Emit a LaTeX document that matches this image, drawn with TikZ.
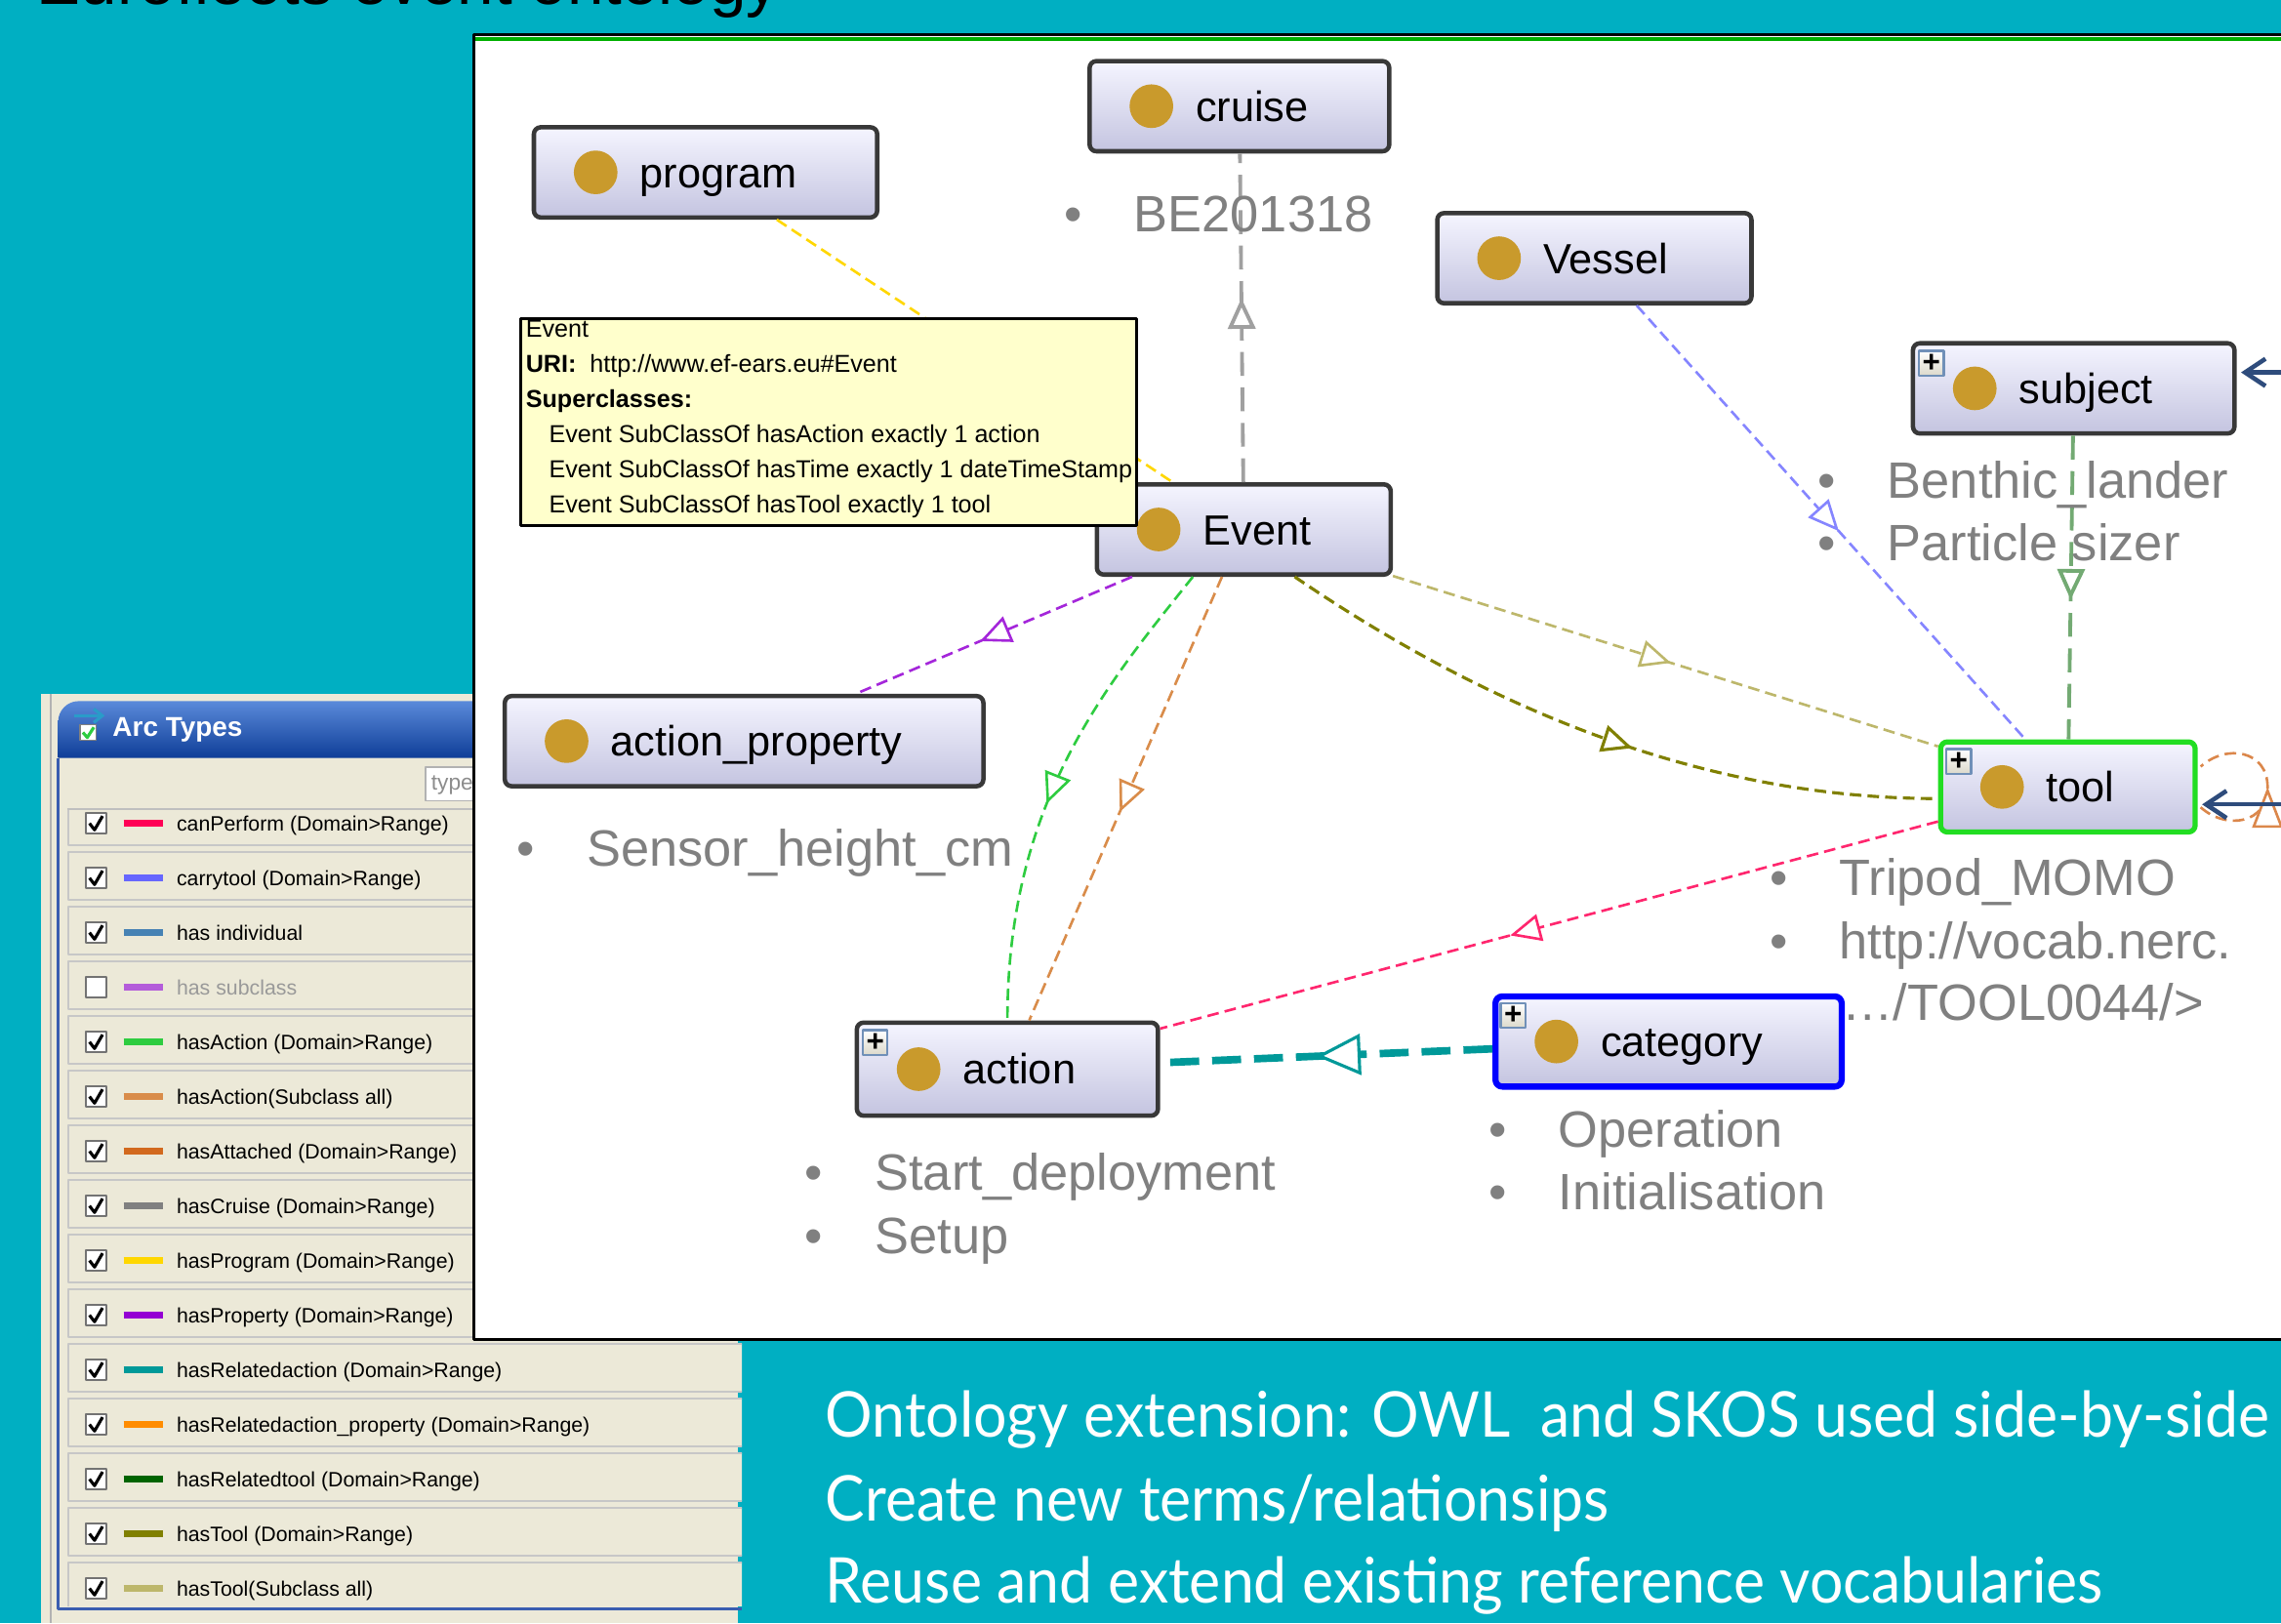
\documentclass[tikz,border=0pt]{standalone}
\usepackage{fontspec}
\setmainfont{Liberation Sans}
\newfontfamily\slidefont[FakeStretch=0.94]{Lato}
\usetikzlibrary{arrows.meta, positioning, calc, decorations.markings}

\definecolor{cteal}{HTML}{00AFC2}
\definecolor{cpanel}{HTML}{ECE9D8}
\definecolor{cgold}{HTML}{C99A2C}
\definecolor{clav}{HTML}{C4C4E0}
\definecolor{cinst}{HTML}{808080}
\definecolor{cnavy}{HTML}{2E4C7C}
\definecolor{ctip}{HTML}{FFFFCC}
\definecolor{cframe}{HTML}{3A5DB0}
\definecolor{ctitletop}{HTML}{5A8ADA}
\definecolor{ctitlebot}{HTML}{0F3E98}
\definecolor{cgreenline}{HTML}{00B000}
\definecolor{cselgreen}{HTML}{22DD22}
\definecolor{cplus}{HTML}{7090B8}
% arc type colours
\definecolor{acanperform}{HTML}{FF0055}
\definecolor{acarry}{HTML}{6666FF}
\definecolor{aindiv}{HTML}{4682B4}
\definecolor{asubcl}{HTML}{B45CDA}
\definecolor{ahasaction}{HTML}{2ECC40}
\definecolor{aactionsub}{HTML}{D98C4A}
\definecolor{aattached}{HTML}{D2691E}
\definecolor{acruise}{HTML}{808080}
\definecolor{aprogram}{HTML}{FFD700}
\definecolor{aproperty}{HTML}{9400D3}
\definecolor{arelaction}{HTML}{009999}
\definecolor{arelprop}{HTML}{FF8C00}
\definecolor{areltool}{HTML}{006400}
\definecolor{atool}{HTML}{808000}
\definecolor{atoolsub}{HTML}{BDB76B}

\newlength\unitpx
\setlength\unitpx{0.015cm}

\tikzset{
  every picture/.style={line join=round},
  cls/.style={draw=black!78, line width=1.3pt, rounded corners=2pt, top color=white!96!blue, bottom color=clav, minimum height=62*\unitpx, inner sep=0pt},
  selgreen/.style={draw=cselgreen, line width=1.5pt},
  selblue/.style={draw=blue, line width=1.8pt},
  golddot/.style={circle, fill=cgold, minimum size=30*\unitpx, inner sep=0pt},
  clsname/.style={anchor=base west, font=\fontsize{12.4}{14}\selectfont, inner sep=0pt},
  plusbox/.style={draw=cplus, line width=0.6pt, top color=white, bottom color=cpanel!85!gray, minimum size=17*\unitpx, inner sep=0pt, anchor=north west, font=\fontsize{9}{9}\selectfont\bfseries},
  inst/.style={anchor=base west, text=cinst, font=\fontsize{15}{17}\selectfont, inner sep=0pt},
  bul/.style={inst},
  relline/.style={line width=0.75pt, dash pattern=on 3.4pt off 1.8pt},
  tri/.style={postaction={decorate}, decoration={markings, mark=at position #1 with {\arrow{Triangle[fill=white, length=9pt, width=8pt]}}}},
  tri/.default=0.5,
  bigtri/.style={postaction={decorate}, decoration={markings, mark=at position #1 with {\arrow{Triangle[fill=white, length=13pt, width=12pt, line width=0.9pt]}}}},
  navyarr/.style={draw=cnavy, line width=1.3pt, -{Straight Barb[length=6pt, width=8pt]}},
  rowbox/.style={fill=cpanel, draw=black!22, line width=0.6pt},
  rowtext/.style={anchor=base west, font=\fontsize{6.1}{7}\selectfont, inner sep=0pt},
  tipbox/.style={draw=black, fill=ctip, line width=0.9pt, inner sep=0pt},
  slide/.style={anchor=base west, text=white, font={\slidefont\fontsize{18.5}{20}\selectfont}, inner sep=0pt},
}

\begin{document}
\begin{tikzpicture}[x=0.015cm, y=-0.015cm]
\useasboundingbox (0,0) rectangle (1568,1116);
\clip (0,0) rectangle (1568,1116);
\fill[cteal] (0,0) rectangle (1568,1116);
% slide title, cut off at the top
\node[anchor=base west, font=\fontsize{19.3}{21}\selectfont, inner sep=0pt] (title) at (25,3) {Eurofleets event ontology};

% arc types panel
\fill[cpanel] (28,477) rectangle (507,1116);
\draw[black!30, line width=0.6pt] (35,477) -- (35,1116);
\shade[top color=ctitletop, bottom color=ctitlebot] (40,521) {[rounded corners=6pt] -- (40,482) -- (345,482)} -- (345,521) -- cycle;
\node[anchor=base west, text=white, font=\fontsize{8}{9}\selectfont\bfseries, inner sep=0pt] (arctitle) at (77,506) {Arc Types};
\draw[fill=white, draw=black!50, line width=0.4pt] (55,498) rectangle (66,509);
\draw[ahasaction, line width=0.9pt] (57,503.5) -- (60,507) -- (64.5,500);
\draw[cyan!80!black, line width=0.9pt, -{Straight Barb[length=2.5pt, width=4pt]}] (51,492) -- (72,492);
\draw[cframe, line width=0.9pt] (40,521) -- (40,1106) -- (510,1106);
\node[draw=black!30, fill=white, anchor=north west, minimum width=40*\unitpx, minimum height=23*\unitpx, inner sep=0pt] (typebox) at (292,527) {};
\node[anchor=base west, text=black!45, font=\fontsize{6.5}{7}\selectfont, inner sep=0pt] (typetext) at (296,543) {type};
\draw[black!25, line width=0.6pt] (46,556) -- (510,556);
\begin{scope}
  \clip (44,557) rectangle (510,1104);
  \foreach \lab/\col/\on/\tc [count=\k from 0] in {
      canPerform (Domain>Range)/acanperform/1/black,
      carrytool (Domain>Range)/acarry/1/black,
      has individual/aindiv/1/black,
      has subclass/asubcl/0/black!40,
      hasAction (Domain>Range)/ahasaction/1/black,
      hasAction(Subclass all)/aactionsub/1/black,
      hasAttached (Domain>Range)/aattached/1/black,
      hasCruise (Domain>Range)/acruise/1/black,
      hasProgram (Domain>Range)/aprogram/1/black,
      hasProperty (Domain>Range)/aproperty/1/black,
      hasRelatedaction (Domain>Range)/arelaction/1/black,
      hasRelatedaction\_property (Domain>Range)/arelprop/1/black,
      hasRelatedtool (Domain>Range)/areltool/1/black,
      hasTool (Domain>Range)/atool/1/black,
      hasTool(Subclass all)/atoolsub/1/black} {
    \pgfmathsetmacro\yc{566+37.57*\k}
    \draw[rowbox] (47,\yc-18) rectangle (512,\yc+15);
    \draw[fill=white, draw=black!55, line width=0.5pt] (59,\yc-7) rectangle (73,\yc+7);
    \ifnum\on=1 \draw[line width=0.9pt] (61.5,\yc) -- (65,\yc+4.5) -- (70.5,\yc-5); \fi
    \draw[\col, line width=2pt] (85,\yc) -- (112,\yc);
    \node[rowtext, text=\tc] (row\k) at (121,\yc+5) {\lab};
  }
\end{scope}

% graph panel
\draw[fill=white, line width=0.9pt] (326,24) rectangle (1600,921);
\draw[cgreenline, line width=1.1pt] (327,26.8) -- (1600,26.8);

% classes
\node[cls, minimum width=236*\unitpx] (program) at (485,118.5) {};
\node[cls, minimum width=206*\unitpx] (cruise) at (852,73) {};
\node[cls, minimum width=216*\unitpx] (vessel) at (1096,177.5) {};
\node[cls, minimum width=221*\unitpx] (subject) at (1425.5,267) {};
\node[cls, minimum width=202*\unitpx] (event) at (855,364) {};
\node[cls, minimum width=329*\unitpx] (actprop) at (511.5,509.5) {};
\node[cls, selgreen, minimum width=175*\unitpx] (tool) at (1421.5,541) {};
\node[cls, minimum width=207*\unitpx, minimum height=64*\unitpx] (action) at (692.5,735) {};
\node[cls, selblue, minimum width=238*\unitpx] (category) at (1147,716) {};
\foreach \nm/\lab in {program/program, cruise/cruise, vessel/Vessel, subject/subject, event/Event, actprop/action\_property, tool/tool, action/action, category/category} {
  \node[golddot] (\nm-dot) at ($(\nm.west)+(44,0)$) {};
  \node[clsname] (\nm-name) at ($(\nm.west)+(74,10.4)$) {\lab};
}
\foreach \nm in {subject, tool, action, category}
  \node[plusbox] (\nm-plus) at ($(\nm.north west)+(5,6)$) {+};

% relations
\draw[relline, aprogram] (program) -- (event);
\draw[relline, acruise!75, line width=1.1pt, dash pattern=on 7pt off 3.4pt, tri=0.56] (event) -- (cruise);
\draw[relline, acarry!80, tri=0.52] (vessel) -- (tool);
\draw[relline, areltool!55, line width=1.1pt, dash pattern=on 7pt off 3.4pt, tri=0.54] (subject) -- (tool);
\draw[relline, atoolsub, tri=0.51] (event) -- (tool);
\draw[relline, atool, line width=0.9pt, tri=0.55] ($(event.south)+(35,0)$) .. controls +(110,75) and +(-180,0) .. ($(tool.west)+(0,8)$);
\draw[relline, aproperty!85, tri=0.55] (event) -- (actprop);
\draw[relline, ahasaction, tri=0.55] ($(event.south)+(-35,0)$) .. controls +(-60,75) and +(0,-150) .. (action.north);
\draw[relline, aactionsub, tri=0.53] ($(event.south)+(-15,0)$) -- ($(action.north)+(15,0)$);
\draw[relline, acanperform!85, tri=0.55] (tool) -- (action);
\draw[arelaction, line width=2.2pt, dash pattern=on 8.5pt off 3.8pt, bigtri=0.53] (category) -- (action);
\draw[relline, aattached!80, postaction={decorate}, decoration={markings, mark=at position 0.5 with {\arrow{Triangle[fill=white, length=12pt, width=9pt]}}}] ($(tool.east)+(2,14)$) .. controls +(18,16) and +(0,25) .. ($(tool.east)+(48,0)$) .. controls +(0,-25) and +(18,-16) .. ($(tool.east)+(2,-14)$);
\coordinate (subjsrc) at (1580,256);
\coordinate (toolsrc) at (1580,553);
\draw[navyarr] (subjsrc) -- ($(subject.east)+(3,-11)$);
\draw[navyarr] (toolsrc) -- ($(tool.east)+(3,12)$);

% individuals
\foreach \tx/\ty/\t [count=\i] in {779/147/BE201318, 1297/330/Benthic\_lander, 1297/373/Particle sizer, 403/583/Sensor\_height\_cm, 1264/603/Tripod\_MOMO, 1264/647/{http://vocab.nerc.}, 601/806/Start\_deployment, 601/849/Setup, 1071/776/Operation, 1071/819/Initialisation} {
  \node[bul] (bul\i) at (\tx-48,\ty+12.5) {•};
  \node[inst] (inst\i) at (\tx,\ty+12.5) {\t};
}
\node[inst] (inst11) at (1266,701.5) {…/TOOL0044/>};

% tooltip
\node[tipbox, anchor=north west, minimum width=423*\unitpx, minimum height=142*\unitpx] (tip) at (357,218) {};
\node[anchor=north west, align=left, inner sep=0pt, font=\fontsize{7.2}{10.3}\selectfont] (tiptext) at (361,220) {Event\\
\textbf{URI:}~ http://www.ef-ears.eu\#Event\\
\textbf{Superclasses:}\\
\hspace*{6.8pt}Event SubClassOf hasAction exactly 1 action\\
\hspace*{6.8pt}Event SubClassOf hasTime exactly 1 dateTimeStamp\\
\hspace*{6.8pt}Event SubClassOf hasTool exactly 1 tool};

% slide text
\node[slide] (line1) at (567,988) {Ontology extension: OWL~ and SKOS used side-by-side};
\node[slide] (line2) at (567,1045.5) {Create new terms/relationsips};
\node[slide] (line3) at (567,1102) {Reuse and extend existing reference vocabularies};
\end{tikzpicture}
\end{document}
